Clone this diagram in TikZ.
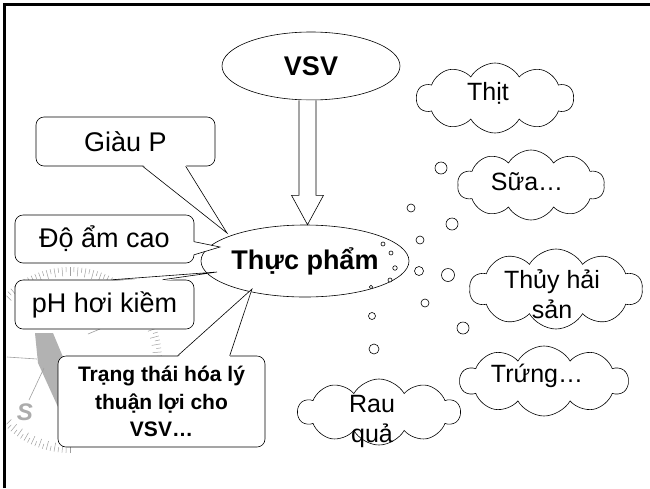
\documentclass[tikz,border=0pt]{standalone}
\usepackage{fontspec}
\setmainfont{Liberation Sans}
\usetikzlibrary{shapes.geometric,shapes.symbols,calc}

\tikzset{
  outline/.style={line width=0.6pt},
  callbox/.style={outline, draw, fill=white, rounded corners=8pt, inner sep=0pt,
    align=center, font=\fontsize{27}{32}\selectfont},
  boldbox/.style={callbox, font=\bfseries\fontsize{21}{27.5}\selectfont},
  oval/.style={outline, ellipse, draw, fill=white, inner sep=0pt,
    font=\bfseries\fontsize{27}{30}\selectfont},
  puff/.style={outline, cloud, draw, fill=white, cloud puffs=10, cloud puff arc=120,
    cloud ignores aspect, inner sep=0pt},
  puffText/.style={align=center, inner sep=0pt, font=\fontsize{25}{30}\selectfont},
  bubble/.style={outline, circle, draw, fill=white, inner sep=0pt, minimum size=#1},
  compassInk/.style={draw=gray!75, line width=0.6pt},
  wedgeFill/.style={fill=white},
}

\begin{document}
\begin{tikzpicture}[x=1pt,y=-1pt]
\useasboundingbox (0,0) rectangle (650,488);

% faint compass in the background
\begin{scope}
  \clip (6.5,6.5) rectangle (300,488);
  \fill[gray!60] (35,333) -- (53,333) -- (63,357) -- (58,407) -- (38,363) -- cycle;
  \draw[compassInk] (7,357) -- (37,359);
  \draw[compassInk] (44,368) -- (29,400);
  \draw[compassInk] (88,334) -- (100,329);
  \foreach \a [count=\k] in {40,42.5,...,140} {
    \pgfmathsetmacro{\len}{isodd(\k) ? 9 : 5}
    \draw[compassInk, line width=0.5pt] ({70+92*cos(\a)},{360-93*sin(\a)}) -- ({70+(92-\len)*cos(\a)},{360-(93-\len)*sin(\a)});
  }
  \foreach \a [count=\k] in {-20,-17.5,...,22} {
    \pgfmathsetmacro{\len}{isodd(\k) ? 9 : 5}
    \draw[compassInk, line width=0.5pt] ({70+92*cos(\a)},{360-93*sin(\a)}) -- ({70+(92-\len)*cos(\a)},{360-(93-\len)*sin(\a)});
  }
  \foreach \a [count=\k] in {215,217.5,...,272} {
    \pgfmathsetmacro{\len}{isodd(\k) ? 9 : 5}
    \draw[compassInk, line width=0.5pt] ({70+92*cos(\a)},{360-93*sin(\a)}) -- ({70+(92-\len)*cos(\a)},{360-(93-\len)*sin(\a)});
  }
  \node[text=gray!65, font=\bfseries\itshape\fontsize{24}{24}\selectfont] (compassS) at (25,412) {S};
\end{scope}

% page frame
\draw[line width=3pt] (4.5,488) -- (4.5,4.5) -- (650,4.5);

% main ellipses and the block arrow between them
\node[oval, minimum width=178pt, minimum height=68pt] (vsv) at (311,66) {VSV};
\node[oval, minimum width=180pt, minimum height=72pt] (food) at (305,261) {Thực phẩm};
\coordinate (ax) at ($(vsv.south)+(-3.5,0)$);
\coordinate (atip) at (ax |- food.north);
\draw[outline, fill=white] ($(ax)+(-8.5,0)$) -- ($(ax)+(-8.5,95)$) -- ($(ax)+(-16,95)$)
  -- (atip) -- ($(ax)+(16,95)$) -- ($(ax)+(8.5,95)$) -- ($(ax)+(8.5,0)$);

% callout boxes
\node[callbox, minimum width=179pt, minimum height=49pt] (gp) at (125.5,141.5) {Giàu P};
\node[callbox, minimum width=179pt, minimum height=48pt] (da) at (104.5,239) {Độ ẩm cao};
\node[callbox, minimum width=179pt, minimum height=49pt] (ph) at (104.5,304.5) {pH hơi kiềm};
\node[boldbox, minimum width=207pt, minimum height=91pt] (tt) at (161.5,401.5)
  {Trạng thái hóa lý\\thuận lợi cho\\VSV…};

% callout pointers towards the food ellipse
\coordinate (gpTip) at (227,233);
\coordinate (daTip) at (220,247);
\coordinate (phTip) at (217,272);
\coordinate (ttTip) at (252,289);

\fill[wedgeFill] ($(gp.south west)+(107,-1.5)$) -- (gpTip) -- ($(gp.south west)+(150,-1.5)$) -- cycle;
\draw[outline] ($(gp.south west)+(107,0)$) -- (gpTip) -- ($(gp.south west)+(150,0)$);

\fill[wedgeFill] ($(da.north east)+(-1.5,27)$) -- (daTip) -- ($(da.north east)+(-1.5,40)$) -- cycle;
\draw[outline] ($(da.north east)+(0,27)$) -- (daTip) -- ($(da.north east)+(0,40)$);

\fill[wedgeFill] ($(ph.north west)+(98,1.5)$) -- (phTip) -- ($(ph.north west)+(148,1.5)$) -- cycle;
\draw[outline] ($(ph.north west)+(98,0)$) -- (phTip) -- ($(ph.north west)+(148,0)$);

\fill[wedgeFill] ($(tt.north west)+(120,1.5)$) -- (ttTip) -- ($(tt.north west)+(172,1.5)$) -- cycle;
\draw[outline] ($(tt.north west)+(120,0)$) -- (ttTip) -- ($(tt.north west)+(172,0)$);

% clouds of food kinds
\node[puff, minimum width=157pt, minimum height=70pt] (cMeat) at (495,98) {};
\node[puffText] (tMeat) at (488,93) {Thịt};
\node[puff, minimum width=147pt, minimum height=70pt] (cMilk) at (531,185) {};
\node[puffText] (tMilk) at (527,182) {Sữa…};
\node[puff, minimum width=173pt, minimum height=80pt] (cSea) at (556,289) {};
\node[puffText] (tSea) at (552,294) {Thủy hải\\sản};
\node[puff, minimum width=168pt, minimum height=70pt] (cEgg) at (544,381) {};
\node[puffText] (tEgg) at (537,376) {Trứng…};
\node[puff, minimum width=162pt, minimum height=66pt] (cVeg) at (379,412) {};
\node[puffText] (tVeg) at (372,421) {Rau\\quả};

% thought bubbles
\foreach \x/\y/\d [count=\i] in {441/168/12, 411/208/8, 452/224/12, 420/240/8,
    419/271/9, 448/275/13, 425/303/8, 463/328/12, 372/316/7, 374/349/10,
    383/244/4, 391/253/4, 395/268/4.5, 390/280/4, 371/287/3.5}
  \node[bubble=\d pt] (bub\i) at (\x,\y) {};

\end{tikzpicture}
\end{document}
